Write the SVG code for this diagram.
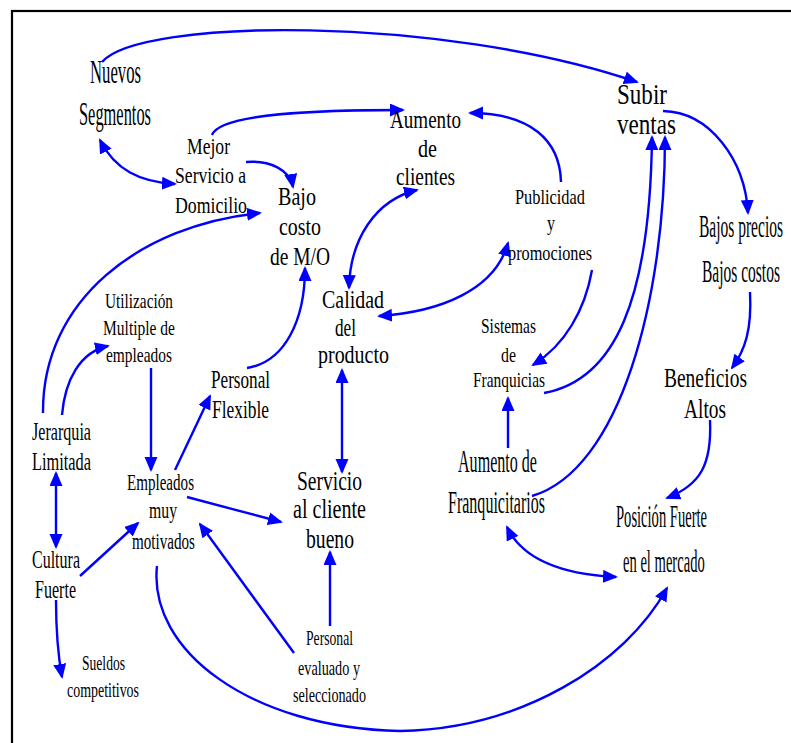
<svg xmlns="http://www.w3.org/2000/svg" width="791" height="743" viewBox="0 0 791 743">
<style>
text{font-family:"Liberation Serif","DejaVu Serif","Times New Roman",serif;fill:#000}
.e{fill:none;stroke:#0000FF;stroke-width:2.4;marker-end:url(#ah)}
.d{marker-start:url(#ah)}
</style>
<defs>
<marker id="ah" markerUnits="userSpaceOnUse" markerWidth="16" markerHeight="14" refX="13" refY="6.5" orient="auto-start-reverse">
<path d="M0,0 L15,6.5 L0,13 z" fill="#0000FF"/>
</marker>
</defs>
<rect width="791" height="743" fill="#fff"/>
<rect x="12" y="11" width="800" height="760" fill="none" stroke="#000" stroke-width="2.2"/>
<g id="connectors">
<path class="e" d="M102,62 C140,18 440,15 637,82"/>
<path class="e" d="M212,135 C220,113 320,110 403,110"/>
<path class="e" d="M246,162 C270,160 290,170 293,187"/>
<path class="e d" d="M100,140 C115,170 140,182 175,184"/>
<path class="e" d="M43,413 C42,300 140,225 260,213"/>
<path class="e" d="M62,415 C65,380 80,352 108,346"/>
<path class="e" d="M151,368 L151,470"/>
<path class="e" d="M175,470 L210,396"/>
<path class="e" d="M247,368 C285,362 305,320 305,268"/>
<path class="e d" d="M349,288 C350,240 375,200 417,190"/>
<path class="e d" d="M379,316 C440,312 495,290 508,243"/>
<path class="e" d="M561,182 C560,140 530,113 470,113"/>
<path class="e" d="M663,111 C710,112 745,160 748,213"/>
<path class="e" d="M750,292 C752,330 745,350 732,368"/>
<path class="e" d="M710,420 C712,465 700,485 667,498"/>
<path class="e" d="M592,270 C585,310 565,345 533,365"/>
<path class="e" d="M544,393 C615,380 650,300 652,137"/>
<path class="e" d="M532,496 C620,470 665,300 665,137"/>
<path class="e" d="M508,448 L508,398"/>
<path class="e d" d="M507,527 C525,565 575,575 616,577"/>
<path class="e" d="M157,566 C148,650 250,728 400,731 C520,729 625,665 667,588"/>
<path class="e" d="M187,497 L281,522"/>
<path class="e" d="M294,653 L200,524"/>
<path class="e" d="M330,626 L330,552"/>
<path class="e d" d="M342,370 L342,472"/>
<path class="e d" d="M56,473 L56,547"/>
<path class="e" d="M80,576 L138,523"/>
<path class="e" d="M56,600 C56,630 58,655 62,677"/>
</g>
<g id="nuevos" font-size="34">
<text x="90" y="83" textLength="51" lengthAdjust="spacingAndGlyphs">Nuevos</text>
<text x="79" y="125" textLength="72" lengthAdjust="spacingAndGlyphs">Segmentos</text>
</g>
<g id="mejor" font-size="24">
<text x="187" y="154" textLength="43" lengthAdjust="spacingAndGlyphs">Mejor</text>
<text x="175" y="183" textLength="71" lengthAdjust="spacingAndGlyphs">Servicio a</text>
<text x="175" y="213" textLength="72" lengthAdjust="spacingAndGlyphs">Domicilio</text>
</g>
<g id="bajo" font-size="25">
<text x="278" y="205" textLength="38" lengthAdjust="spacingAndGlyphs">Bajo</text>
<text x="279" y="235" textLength="42" lengthAdjust="spacingAndGlyphs">costo</text>
<text x="270" y="265" textLength="60" lengthAdjust="spacingAndGlyphs">de M/O</text>
</g>
<g id="aumento" font-size="26">
<text x="390" y="128" textLength="71" lengthAdjust="spacingAndGlyphs">Aumento</text>
<text x="418" y="157" textLength="19" lengthAdjust="spacingAndGlyphs">de</text>
<text x="396" y="185" textLength="59" lengthAdjust="spacingAndGlyphs">clientes</text>
</g>
<g id="subir" font-size="29">
<text x="617" y="104" textLength="50" lengthAdjust="spacingAndGlyphs">Subir</text>
<text x="617" y="134" textLength="59" lengthAdjust="spacingAndGlyphs">ventas</text>
</g>
<g id="publicidad" font-size="21">
<text x="515" y="204" textLength="70" lengthAdjust="spacingAndGlyphs">Publicidad</text>
<text x="547" y="230" textLength="8" lengthAdjust="spacingAndGlyphs">y</text>
<text x="508" y="260" textLength="84" lengthAdjust="spacingAndGlyphs">promociones</text>
</g>
<g id="bajos" font-size="32">
<text transform="translate(699,237) scale(0.485,1)">Bajos precios</text>
<text transform="translate(702,282) scale(0.485,1)">Bajos costos</text>
</g>
<g id="utilizacion" font-size="22">
<text x="105" y="308" textLength="68" lengthAdjust="spacingAndGlyphs">Utilización</text>
<text x="103" y="335" textLength="72" lengthAdjust="spacingAndGlyphs">Multiple de</text>
<text x="106" y="362" textLength="66" lengthAdjust="spacingAndGlyphs">empleados</text>
</g>
<g id="calidad" font-size="25">
<text x="322" y="308" textLength="62" lengthAdjust="spacingAndGlyphs">Calidad</text>
<text x="335" y="336" textLength="21" lengthAdjust="spacingAndGlyphs">del</text>
<text x="318" y="363" textLength="71" lengthAdjust="spacingAndGlyphs">producto</text>
</g>
<g id="flexible" font-size="25">
<text x="211" y="388" textLength="59" lengthAdjust="spacingAndGlyphs">Personal</text>
<text x="212" y="418" textLength="57" lengthAdjust="spacingAndGlyphs">Flexible</text>
</g>
<g id="sistemas" font-size="21">
<text x="481" y="333" textLength="55" lengthAdjust="spacingAndGlyphs">Sistemas</text>
<text x="501" y="362" textLength="15" lengthAdjust="spacingAndGlyphs">de</text>
<text x="473" y="387" textLength="72" lengthAdjust="spacingAndGlyphs">Franquicias</text>
</g>
<g id="beneficios" font-size="28">
<text x="664" y="387" textLength="83" lengthAdjust="spacingAndGlyphs">Beneficios</text>
<text x="684" y="418" textLength="42" lengthAdjust="spacingAndGlyphs">Altos</text>
</g>
<g id="jerarquia" font-size="26">
<text x="32" y="440" textLength="59" lengthAdjust="spacingAndGlyphs">Jerarquia</text>
<text x="32" y="470" textLength="59" lengthAdjust="spacingAndGlyphs">Limitada</text>
</g>
<g id="franquicitarios" font-size="31">
<text x="458" y="472" textLength="79" lengthAdjust="spacingAndGlyphs">Aumento de</text>
<text x="448" y="513" textLength="97" lengthAdjust="spacingAndGlyphs">Franquicitarios</text>
</g>
<g id="empleados" font-size="23">
<text x="127" y="490" textLength="67" lengthAdjust="spacingAndGlyphs">Empleados</text>
<text x="149" y="518" textLength="28" lengthAdjust="spacingAndGlyphs">muy</text>
<text x="132" y="549" textLength="63" lengthAdjust="spacingAndGlyphs">motivados</text>
</g>
<g id="servicio" font-size="27">
<text x="297" y="490" textLength="65" lengthAdjust="spacingAndGlyphs">Servicio</text>
<text x="293" y="518" textLength="73" lengthAdjust="spacingAndGlyphs">al cliente</text>
<text x="306" y="548" textLength="48" lengthAdjust="spacingAndGlyphs">bueno</text>
</g>
<g id="posicion" font-size="31">
<text transform="translate(616,527) scale(0.47,1)">Posición Fuerte</text>
<text transform="translate(623,572) scale(0.47,1)">en el mercado</text>
</g>
<g id="cultura" font-size="26">
<text x="32" y="568" textLength="48" lengthAdjust="spacingAndGlyphs">Cultura</text>
<text x="35" y="598" textLength="41" lengthAdjust="spacingAndGlyphs">Fuerte</text>
</g>
<g id="sueldos" font-size="21">
<text x="82" y="670" textLength="43" lengthAdjust="spacingAndGlyphs">Sueldos</text>
<text x="67" y="697" textLength="72" lengthAdjust="spacingAndGlyphs">competitivos</text>
</g>
<g id="evaluado" font-size="21">
<text x="306" y="645" textLength="47" lengthAdjust="spacingAndGlyphs">Personal</text>
<text x="298" y="675" textLength="62" lengthAdjust="spacingAndGlyphs">evaluado y</text>
<text x="293" y="702" textLength="73" lengthAdjust="spacingAndGlyphs">seleccionado</text>
</g>
</svg>
